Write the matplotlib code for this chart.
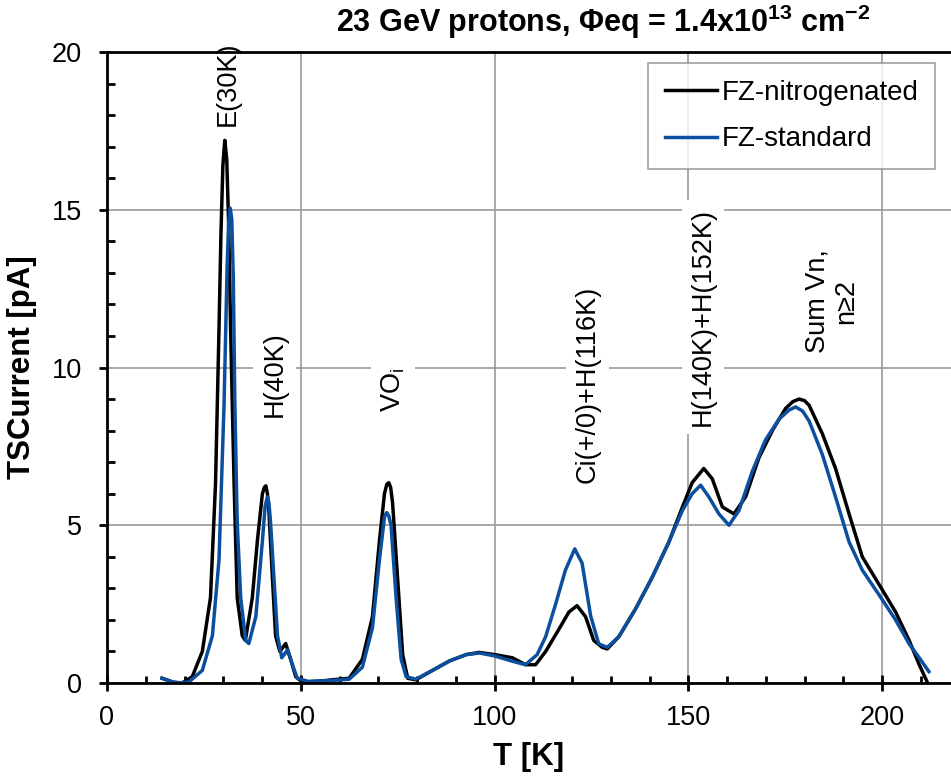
import matplotlib
matplotlib.use("Agg")
import matplotlib.pyplot as plt
from matplotlib.ticker import MultipleLocator

plt.rcParams['font.family'] = ['Liberation Sans', 'DejaVu Sans']
plt.rcParams['mathtext.fontset'] = 'custom'
plt.rcParams['mathtext.rm'] = 'Liberation Sans'
plt.rcParams['mathtext.bf'] = 'Liberation Sans:bold'

# ---- data ----
T_nitro = [14.2, 17, 19.4, 22, 24.6, 26.7, 28, 28.9, 29.4, 29.9, 30.4, 30.9, 31.4, 31.9, 32.8, 33.6,
           34.9, 35.7, 37.5, 38.8, 40.1, 40.6, 41, 41.4, 41.8, 42.7, 43.5, 44.6, 46.1, 47.4, 48.7,
           50.4, 55, 58, 62.5, 65.9, 68.5, 70.3, 71.6, 72.2, 72.7, 73.2, 73.7, 75, 76.3, 77.6, 79.7,
           84, 88.4, 92.7, 96.1, 100, 104.6, 108, 110.6, 113.2, 116.6, 119.2, 121.3, 123.5, 125.6,
           127.8, 129.1, 132.1, 136.4, 140.7, 145, 148.5, 151, 154, 156.2, 158.8, 161.8, 164.8, 168.2,
           171.7, 175.1, 177, 178.6, 180, 181.2, 184.6, 188, 191.5, 194.9, 199.2, 203.5, 207, 209.6,
           211.7]
I_nitro = [0.15, 0.03, 0.0, 0.2, 1.0, 2.7, 6.3, 11.2, 14.2, 16.4, 17.2, 16.6, 14.5, 11.2, 6.3, 2.7,
           1.5, 1.35, 2.7, 4.5, 6.0, 6.2, 6.25, 6.0, 5.4, 3.3, 1.5, 1.0, 1.25, 0.75, 0.2,
           0.03, 0.06, 0.1, 0.15, 0.75, 2.1, 4.5, 6.0, 6.3, 6.35, 6.2, 5.7, 3.3, 0.9, 0.15, 0.1,
           0.4, 0.7, 0.9, 0.97, 0.9, 0.8, 0.58, 0.58, 1.0, 1.7, 2.25, 2.45, 2.1, 1.35,
           1.13, 1.08, 1.47, 2.35, 3.35, 4.47, 5.58, 6.35, 6.8, 6.47, 5.58, 5.36, 5.9, 7.13,
           8.0, 8.7, 8.92, 9.0, 8.95, 8.8, 7.9, 6.8, 5.36, 4.0, 3.13, 2.25, 1.35, 0.58,
           0.02]

T_std = [14.2, 17.7, 21.1, 24.6, 27.2, 28.9, 30.2, 31, 31.4, 31.8, 32.2, 32.6, 33, 33.6, 34.5, 35.8,
         36.6, 38.4, 40.1, 40.8, 41.4, 41.8, 42.2, 43.1, 44, 45.1, 46.6, 47.8, 49.1, 52, 58, 62.5,
         65.9, 68.5, 70.3, 71.6, 71.9, 72.2, 72.7, 73.3, 74.6, 75.9, 77.2, 79.7, 84, 88.4, 92.7,
         96.1, 100, 104.6, 108, 111, 113.2, 115.7, 118.3, 120.7, 122.6, 124.8, 126.9, 129.1, 132.1,
         136.4, 140.7, 145, 148.5, 151, 153.2, 155.3, 157.9, 160.5, 163.1, 166.5, 169.9, 173.4,
         176, 177.7, 179.5, 181.2, 184.6, 188, 191.5, 194.9, 199.2, 203.5, 207, 209.6, 212.1]
I_std = [0.15, 0.0, 0.03, 0.4, 1.5, 3.9, 8.8, 13.2, 14.6, 15.05, 14.7, 12.8, 8.8, 5.1, 2.7, 1.35,
         1.25, 2.1, 4.5, 5.6, 5.9, 5.7, 5.1, 3.3, 1.5, 0.8, 1.05, 0.6, 0.15, 0.05, 0.08, 0.12,
         0.5, 1.75, 3.9, 5.25, 5.35, 5.4, 5.3, 5.0, 2.7, 0.75, 0.2, 0.12, 0.4, 0.7, 0.9,
         0.95, 0.86, 0.69, 0.58, 0.9, 1.47, 2.47, 3.58, 4.25, 3.8, 2.13, 1.24, 1.13, 1.47,
         2.35, 3.35, 4.47, 5.47, 6.0, 6.27, 5.9, 5.36, 5.0, 5.47, 6.7, 7.7, 8.36,
         8.65, 8.75, 8.62, 8.3, 7.24, 5.9, 4.47, 3.58, 2.8, 2.0, 1.24, 0.8, 0.36]

labels_series = ['FZ-nitrogenated', 'FZ-standard']
ann_text = ['E(30K)', 'H(40K)', 'VO$_\\mathrm{i}$', 'Ci(+/0)+H(116K)', 'H(140K)+H(152K)', 'Sum Vn,\nn≥2']
ann_T = [31.2, 43.2, 73.8, 123.9, 153.8, 187.0]
ann_I = [19.0, 9.8, 9.3, 9.45, 11.6, 12.1]

fig = plt.figure(figsize=(9.51, 7.79), dpi=100)
ax = fig.add_axes([107/951, 96/779, 1 - 107/951, (683-52)/779])

ax.plot(T_nitro, I_nitro, color='black', lw=2.5, label=labels_series[0], zorder=3)
ax.plot(T_std, I_std, color='#0B4F9E', lw=2.5, label=labels_series[1], zorder=4)

ax.set_xlim(0, 217.8)
ax.set_ylim(0, 20)
ax.xaxis.set_major_locator(MultipleLocator(50))
ax.xaxis.set_minor_locator(MultipleLocator(10))
ax.yaxis.set_major_locator(MultipleLocator(5))
ax.yaxis.set_minor_locator(MultipleLocator(1))
ax.grid(True, which='major', color='#999999', lw=1.2, zorder=0)
ax.set_axisbelow(True)
ax.spines['right'].set_visible(False)
for s in ['left', 'bottom', 'top']:
    ax.spines[s].set_linewidth(2.0)
    ax.spines[s].set_zorder(6)
ax.tick_params(axis='x', which='major', direction='inout', length=11, width=2, labelsize=19.5, pad=10)
ax.tick_params(axis='x', which='minor', direction='in', length=5, width=2)
ax.tick_params(axis='y', which='major', direction='out', length=6, width=2, labelsize=19.5, pad=12)
ax.tick_params(axis='y', which='minor', direction='in', length=6, width=2)

ax.set_xlabel('T [K]', fontsize=22.5, fontweight='bold')
ax.set_ylabel('TSCurrent [pA]', fontsize=22.5, fontweight='bold')
ax.xaxis.set_label_coords(0.5, -0.094)
ax.yaxis.set_label_coords(-0.083, 0.5)

for t, x, y in zip(ann_text, ann_T, ann_I):
    ax.text(x, y, t, rotation=90, fontsize=19.5, ha='center', va='center', zorder=2,
            family=['Liberation Sans', 'DejaVu Sans'], linespacing=1.15,
            bbox=dict(facecolor='white', edgecolor='none', pad=6))

leg = ax.legend(loc='upper right', bbox_to_anchor=(935/951, 1 - 63/779),
                bbox_transform=fig.transFigure,
                fontsize=20, frameon=True, fancybox=False, edgecolor='#888888',
                handlelength=1.9, handletextpad=0.15, labelspacing=0.75, borderpad=0.6,
                borderaxespad=0.0)
leg.get_frame().set_linewidth(1.2)
leg.set_zorder(7)

fig.text(603/951, 1 - 22/779, '23 GeV protons, Φeq = 1.4x10$^{\\mathbf{13}}$ cm$^{\\mathbf{-2}}$',
         ha='center', va='center', fontsize=22, fontweight='bold')

fig.savefig('out.png', dpi=100)
